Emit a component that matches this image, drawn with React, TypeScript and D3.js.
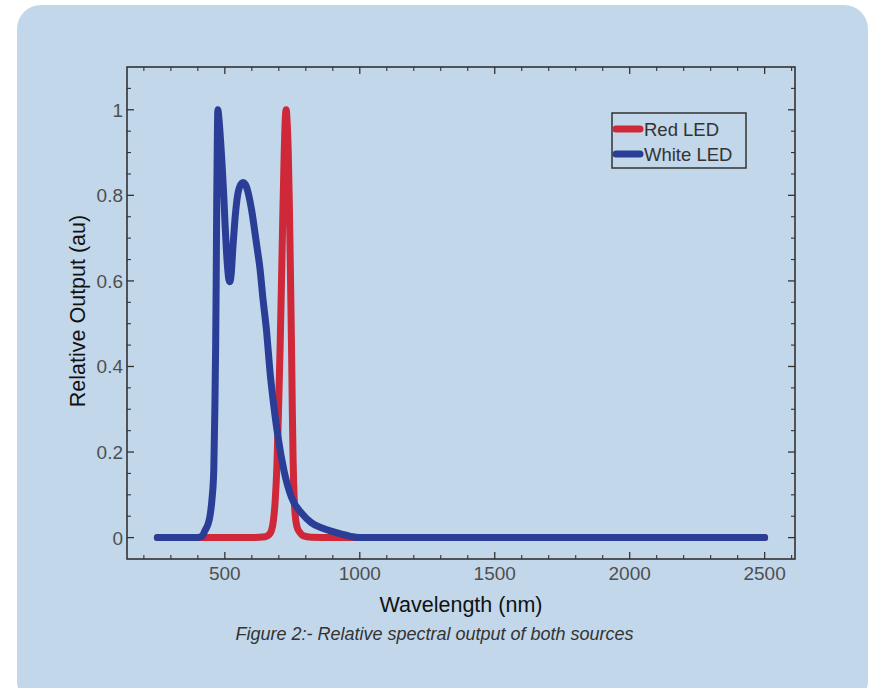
import React from "react";
import * as d3 from "d3";

const redWavelength = [250, 400, 600, 650, 662, 672, 680, 687, 693, 699, 705, 710, 715, 720, 724, 727, 731, 735, 739, 743, 747, 750, 753, 757, 762, 768, 778, 792, 820, 900, 1500, 2000, 2500];
const redOutput = [0, 0, 0, 0.002, 0.006, 0.015, 0.04, 0.09, 0.17, 0.3, 0.45, 0.6, 0.76, 0.9, 0.98, 1.0, 0.97, 0.9, 0.78, 0.62, 0.45, 0.3, 0.18, 0.09, 0.045, 0.024, 0.012, 0.004, 0.001, 0, 0, 0, 0];

const whiteWavelength = [250, 400, 415, 426, 437, 444, 452, 459, 463, 466, 468, 470, 472, 474, 478, 484, 490, 496, 501, 506, 511, 515, 519, 524, 530, 537, 545, 555, 568, 580, 592, 602, 611, 620, 630, 641, 655, 667, 681, 697, 719, 747, 786, 820, 858, 900, 933, 965, 1000, 1500, 2000, 2500];
const whiteOutput = [0, 0, 0.003, 0.016, 0.03, 0.047, 0.087, 0.157, 0.3, 0.45, 0.6, 0.79, 0.92, 1.0, 0.98, 0.93, 0.87, 0.8, 0.73, 0.67, 0.625, 0.603, 0.598, 0.62, 0.68, 0.74, 0.79, 0.82, 0.83, 0.82, 0.79, 0.755, 0.715, 0.675, 0.63, 0.56, 0.48, 0.39, 0.31, 0.235, 0.157, 0.094, 0.056, 0.035, 0.023, 0.014, 0.008, 0.003, 0, 0, 0, 0];

const seriesNames = ["Red LED", "White LED"];
const seriesColors = ["#cf2838", "#2a3e98"];
const xMajorTicks = [500, 1000, 1500, 2000, 2500];
const yMajorTicks = [0, 0.2, 0.4, 0.6, 0.8, 1];
const yTickLabels = ["0", "0.2", "0.4", "0.6", "0.8", "1"];

const W = 872;
const H = 688;
const left = 127, right = 795, top = 67, bottom = 559;

export default function App() {
  const x = d3.scaleLinear().domain([137.5, 2612.5]).range([left, right]);
  const y = d3.scaleLinear().domain([-0.05, 1.1]).range([bottom, top]);

  const xMinor = d3.range(200, 2601, 100).filter((v) => v % 500 !== 0);
  const yMinor = d3.range(-0.05, 1.1, 0.05).map((v) => Math.round(v * 100) / 100).filter((v) => Math.abs(Math.round(v * 10) / 10 - v) > 0.001 || Math.round(v * 10) % 2 === 1).filter((v) => v > -0.05 && v < 1.1);

  const line = d3
    .line<[number, number]>()
    .x((d) => x(d[0]))
    .y((d) => y(d[1]))
    .curve(d3.curveMonotoneX);

  const redData: [number, number][] = redWavelength.map((w, i) => [w, redOutput[i]]);
  const whiteData: [number, number][] = whiteWavelength.map((w, i) => [w, whiteOutput[i]]);

  const axisColor = "#333";
  const labelColor = "#4f4f4f";
  const font = "'Liberation Sans', Arial, sans-serif";

  const ticks: React.ReactNode[] = [];
  xMajorTicks.forEach((v) => {
    ticks.push(<line key={"xb" + v} x1={x(v)} x2={x(v)} y1={bottom} y2={bottom - 7} stroke={axisColor} strokeWidth={1.3} />);
    ticks.push(<line key={"xt" + v} x1={x(v)} x2={x(v)} y1={top} y2={top + 7} stroke={axisColor} strokeWidth={1.3} />);
  });
  xMinor.forEach((v) => {
    ticks.push(<line key={"xbm" + v} x1={x(v)} x2={x(v)} y1={bottom} y2={bottom - 4} stroke={axisColor} strokeWidth={1.1} />);
    ticks.push(<line key={"xtm" + v} x1={x(v)} x2={x(v)} y1={top} y2={top + 4} stroke={axisColor} strokeWidth={1.1} />);
  });
  yMajorTicks.forEach((v) => {
    ticks.push(<line key={"yl" + v} x1={left} x2={left + 7} y1={y(v)} y2={y(v)} stroke={axisColor} strokeWidth={1.3} />);
    ticks.push(<line key={"yr" + v} x1={right} x2={right - 7} y1={y(v)} y2={y(v)} stroke={axisColor} strokeWidth={1.3} />);
  });
  yMinor.forEach((v) => {
    ticks.push(<line key={"ylm" + v} x1={left} x2={left + 4} y1={y(v)} y2={y(v)} stroke={axisColor} strokeWidth={1.1} />);
    ticks.push(<line key={"yrm" + v} x1={right} x2={right - 4} y1={y(v)} y2={y(v)} stroke={axisColor} strokeWidth={1.1} />);
  });

  return (
    <svg width={W} height={H} style={{ position: "absolute", left: 0, top: 0 }} fontFamily={font}>
      <rect x={0} y={0} width={W} height={H} fill="#ffffff" />
      <rect x={17} y={5} width={851} height={700} rx={24} ry={24} fill="#c2d7ea" />

      {/* curves */}
      <path d={line(redData) || ""} fill="none" stroke={seriesColors[0]} strokeWidth={7} strokeLinecap="round" strokeLinejoin="round" />
      <path d={line(whiteData) || ""} fill="none" stroke={seriesColors[1]} strokeWidth={7} strokeLinecap="round" strokeLinejoin="round" />

      {/* frame */}
      <rect x={left} y={top} width={right - left} height={bottom - top} fill="none" stroke={axisColor} strokeWidth={1.6} />
      {ticks}

      {/* tick labels */}
      {xMajorTicks.map((v) => (
        <text key={"xl" + v} x={x(v)} y={580} textAnchor="middle" fontSize={19} fill={labelColor}>
          {v}
        </text>
      ))}
      {yMajorTicks.map((v, i) => (
        <text key={"ylb" + v} x={123} y={y(v) + 7} textAnchor="end" fontSize={19} fill={labelColor}>
          {yTickLabels[i]}
        </text>
      ))}

      {/* axis titles */}
      <text x={461} y={612} textAnchor="middle" fontSize={21.5} fill="#111">
        Wavelength (nm)
      </text>
      <text transform="translate(85,311) rotate(-90)" textAnchor="middle" fontSize={21.5} fill="#111">
        Relative Output (au)
      </text>

      {/* legend */}
      <rect x={612} y={113} width={134} height={55} fill="none" stroke={axisColor} strokeWidth={1.5} />
      {seriesNames.map((name, i) => (
        <g key={name}>
          <line x1={616} x2={640} y1={129 + i * 25} y2={129 + i * 25} stroke={seriesColors[i]} strokeWidth={7} strokeLinecap="round" />
          <text x={644} y={136 + i * 25} fontSize={18.5} fill="#333">
            {name}
          </text>
        </g>
      ))}

      {/* caption */}
      <text x={434.5} y={640} textAnchor="middle" fontSize={18} fontStyle="italic" fill="#333">
        Figure 2:- Relative spectral output of both sources
      </text>
    </svg>
  );
}
